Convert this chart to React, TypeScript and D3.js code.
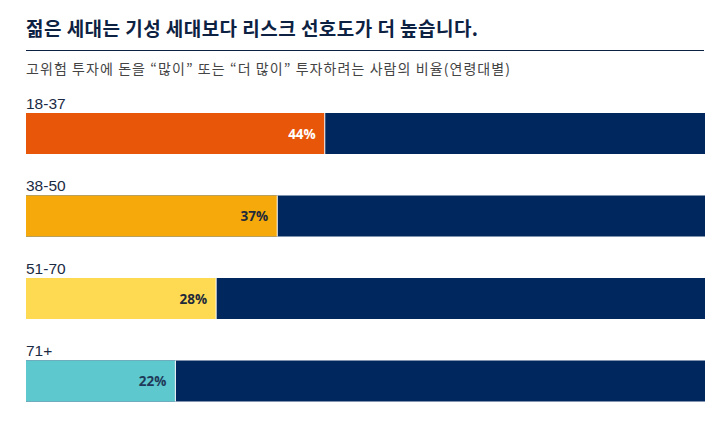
import { useEffect, useRef } from "react";
import * as d3 from "d3";

const ageGroups = ["18-37", "38-50", "51-70", "71+"];
const shares = [44, 37, 28, 22];
const barColors = ["#E8560A", "#F6A90A", "#FDDA52", "#5DC8CD"];
const labelColors = ["#ffffff", "#1f2a3a", "#1f2a3a", "#1f3a5a"];
const restColor = "#00285E";

const title = "젊은 세대는 기성 세대보다 리스크 선호도가 더 높습니다.";
const subtitle = "고위험 투자에 돈을 \u201C많이\u201D 또는 \u201C더 많이\u201D 투자하려는 사람의 비율(연령대별)";

export default function App() {
    const svgRef = useRef<SVGSVGElement | null>(null);
    const W = 728;
    const H = 421;

    useEffect(() => {
        const svg = d3.select(svgRef.current);
        svg.selectAll("*").remove();

        const x = d3.scaleLinear().domain([0, 100]).range([26, 705]);
        const y = d3.scaleBand().domain(ageGroups).range([100, 430]).paddingInner(0);
        const barH = 41;
        const barOffset = 13;

        // title, fitted to the reference width
        svg.append("text")
            .attr("x", 26)
            .attr("y", 36)
            .attr("fill", "#0d2242")
            .attr("textLength", 452)
            .attr("lengthAdjust", "spacing")
            .style("font-family", "'Noto Sans CJK KR', sans-serif")
            .style("font-size", "19px")
            .style("font-weight", 700)
            .text(title);

        svg.append("line")
            .attr("x1", 26).attr("x2", 704)
            .attr("y1", 50.5).attr("y2", 50.5)
            .attr("stroke", "#0d2242")
            .attr("stroke-width", 1);

        svg.append("text")
            .attr("x", 26)
            .attr("y", 74)
            .attr("fill", "#444")
            .attr("textLength", 484)
            .attr("lengthAdjust", "spacing")
            .style("font-family", "'Noto Sans CJK KR', sans-serif")
            .style("font-size", "14px")
            .text(subtitle);

        const rows = svg.selectAll("g.row")
            .data(ageGroups)
            .join("g")
            .attr("class", "row")
            .attr("transform", (d) => `translate(0, ${y(d)})`);

        rows.append("text")
            .attr("x", 26)
            .attr("y", 8.5)
            .attr("fill", "#1b2a44")
            .style("font-family", "'Liberation Sans Narrow', 'Liberation Sans', sans-serif")
            .style("font-size", "15.5px")
            .text((d) => d);

        rows.append("rect")
            .attr("x", x(0))
            .attr("y", barOffset)
            .attr("width", x(100) - x(0))
            .attr("height", barH)
            .attr("fill", restColor);

        rows.append("rect")
            .attr("x", x(0))
            .attr("y", barOffset)
            .attr("width", (_, i) => x(shares[i]) - x(0))
            .attr("height", barH)
            .attr("fill", (_, i) => barColors[i]);

        rows.append("line")
            .attr("x1", (_, i) => x(shares[i]))
            .attr("x2", (_, i) => x(shares[i]))
            .attr("y1", barOffset)
            .attr("y2", barOffset + barH)
            .attr("stroke", "#ffffff")
            .attr("stroke-width", 1);

        rows.append("text")
            .attr("x", (_, i) => x(shares[i]) - 9)
            .attr("y", barOffset + barH / 2 + 5)
            .attr("text-anchor", "end")
            .attr("fill", (_, i) => labelColors[i])
            .style("font-family", "'Open Sans', sans-serif")
            .style("font-size", "13.5px")
            .style("font-weight", 700)
            .text((_, i) => `${shares[i]}%`);
    }, []);

    return (
        <svg
            ref={svgRef}
            width={W}
            height={H}
            style={{ position: "absolute", left: 0, top: 0, background: "#fff" }}
        />
    );
}
